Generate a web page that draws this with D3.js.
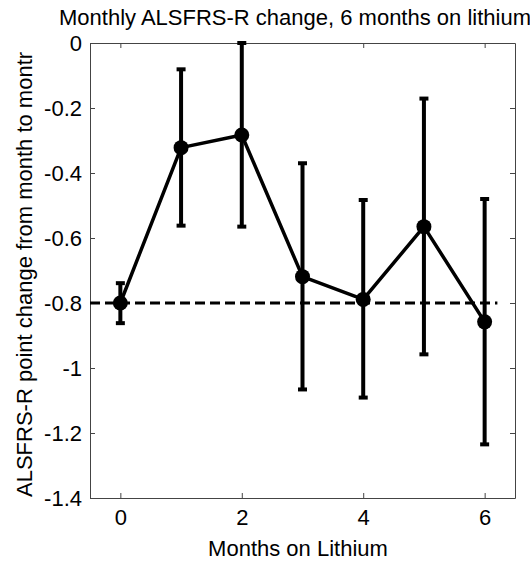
<!DOCTYPE html>
<html>
<head>
<meta charset="utf-8">
<script src="https://cdn.jsdelivr.net/npm/d3@7"></script>
<style>
  html, body { margin: 0; padding: 0; background: #fff; }
  svg { display: block; font-family: "Liberation Sans", Arial, sans-serif; }
</style>
</head>
<body>
<svg id="chart" width="530" height="562"></svg>
<script>
// Monthly ALSFRS-R change with error bars
const months   = [0, 1, 2, 3, 4, 5, 6];
const meanChange = [-0.80, -0.322, -0.283, -0.719, -0.789, -0.565, -0.858];
const errUpper   = [-0.739, -0.081, 0.0, -0.370, -0.483, -0.171, -0.480];
const errLower   = [-0.862, -0.562, -0.565, -1.066, -1.091, -0.958, -1.235];
const baseline   = -0.8;
const xTicks = [0, 2, 4, 6];
const yTicks = [0, -0.2, -0.4, -0.6, -0.8, -1, -1.2, -1.4];

const svg = d3.select("#chart");
const plotLeft = 90, plotRight = 515, plotTop = 43, plotBottom = 498;
const fontSize = 22;

const x = d3.scaleLinear().domain([-0.5, 6.5]).range([plotLeft, plotRight]);
const y = d3.scaleLinear().domain([-1.4, 0]).range([plotBottom, plotTop]);

const axisColor = "#444";
const tickLen = 5;

// Axes: ticks inward on all four sides
const axL = svg.append("g").attr("transform", `translate(${plotLeft},0)`)
  .call(d3.axisLeft(y).tickValues(yTicks).tickSizeInner(-tickLen).tickSizeOuter(0)
        .tickPadding(8).tickFormat(d => String(d)));
const axR = svg.append("g").attr("transform", `translate(${plotRight},0)`)
  .call(d3.axisRight(y).tickValues(yTicks).tickSizeInner(-tickLen).tickSizeOuter(0).tickFormat(""));
const axB = svg.append("g").attr("transform", `translate(0,${plotBottom})`)
  .call(d3.axisBottom(x).tickValues(xTicks).tickSizeInner(-tickLen).tickSizeOuter(0)
        .tickPadding(11).tickFormat(d => String(d)));
const axT = svg.append("g").attr("transform", `translate(0,${plotTop})`)
  .call(d3.axisTop(x).tickValues(xTicks).tickSizeInner(-tickLen).tickSizeOuter(0).tickFormat(""));

[axL, axR, axB, axT].forEach(g => {
  g.select(".domain").attr("stroke", axisColor).attr("stroke-width", 1);
  g.selectAll(".tick line").attr("stroke", axisColor).attr("stroke-width", 1);
  g.selectAll(".tick text").attr("fill", "#000").attr("font-size", fontSize)
    .attr("font-family", "Liberation Sans, Arial, sans-serif");
});
axL.selectAll(".tick text").attr("dy", "0.36em");
axB.selectAll(".tick text").attr("dy", "0.71em");

// Baseline (dashed)
svg.append("line")
  .attr("x1", x(-0.5)).attr("x2", x(6.21))
  .attr("y1", y(baseline)).attr("y2", y(baseline))
  .attr("stroke", "#000").attr("stroke-width", 3)
  .attr("stroke-dasharray", "10,5");

const data = months.map((m, i) => ({ m, v: meanChange[i], hi: errUpper[i], lo: errLower[i] }));

// Error bars
const eb = svg.append("g").attr("stroke", "#000").attr("stroke-width", 4);
eb.selectAll("line.bar").data(data).join("line").attr("class", "bar")
  .attr("x1", d => x(d.m)).attr("x2", d => x(d.m))
  .attr("y1", d => y(d.hi)).attr("y2", d => y(d.lo));
const capW = 4.5;
eb.selectAll("line.capHi").data(data).join("line").attr("class", "capHi")
  .attr("x1", d => x(d.m) - capW).attr("x2", d => x(d.m) + capW)
  .attr("y1", d => y(d.hi)).attr("y2", d => y(d.hi));
eb.selectAll("line.capLo").data(data).join("line").attr("class", "capLo")
  .attr("x1", d => x(d.m) - capW).attr("x2", d => x(d.m) + capW)
  .attr("y1", d => y(d.lo)).attr("y2", d => y(d.lo));

// Mean line
svg.append("path").datum(data)
  .attr("fill", "none").attr("stroke", "#000").attr("stroke-width", 3.5)
  .attr("stroke-linejoin", "round")
  .attr("d", d3.line().x(d => x(d.m)).y(d => y(d.v)));

// Markers
svg.append("g").selectAll("circle").data(data).join("circle")
  .attr("cx", d => x(d.m)).attr("cy", d => y(d.v)).attr("r", 7.5).attr("fill", "#000");

// Title and axis labels
svg.append("text").attr("x", 295).attr("y", 25).attr("text-anchor", "middle")
  .attr("font-size", fontSize).text("Monthly ALSFRS-R change, 6 months on lithium");
svg.append("text").attr("x", 298).attr("y", 556).attr("text-anchor", "middle")
  .attr("font-size", fontSize).text("Months on Lithium");
svg.append("text").attr("transform", "translate(32,497) rotate(-90)")
  .attr("text-anchor", "start").attr("font-size", fontSize)
  .text("ALSFRS-R point change from month to montr");
</script>
</body>
</html>
